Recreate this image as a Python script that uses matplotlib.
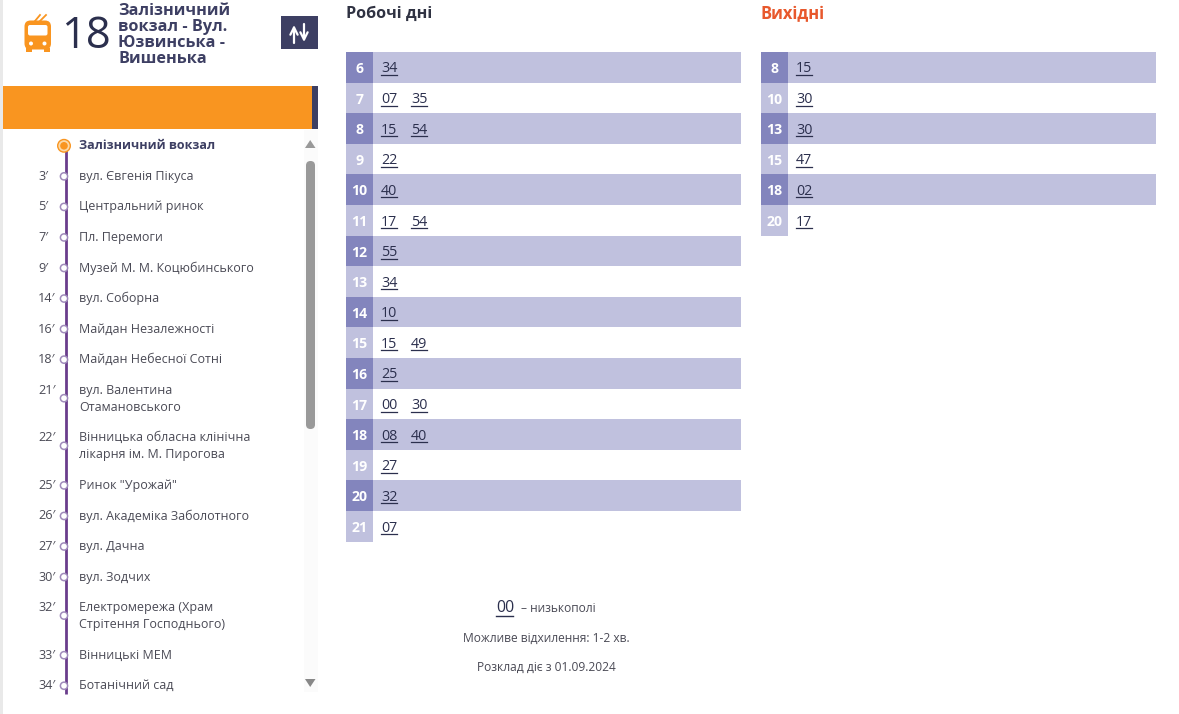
import matplotlib
matplotlib.use("Agg")
import matplotlib.pyplot as plt
from matplotlib.patches import Rectangle, FancyBboxPatch, Circle, Polygon

plt.rcParams['font.family'] = ['Open Sans', 'DejaVu Sans']

route_number = "18"
route_name = ["Залізничний", "вокзал - Вул.", "Юзвинська -", "Вишенька"]

stop_times = ["", "3′", "5′", "7′", "9′", "14′", "16′", "18′", "21′", "22′", "25′", "26′", "27′", "30′", "32′", "33′", "34′"]
stop_names = [
    "Залізничний вокзал", "вул. Євгенія Пікуса", "Центральний ринок", "Пл. Перемоги",
    "Музей М. М. Коцюбинського", "вул. Соборна", "Майдан Незалежності", "Майдан Небесної Сотні",
    "вул. Валентина\nОтамановського", "Вінницька обласна клінічна\nлікарня ім. М. Пирогова",
    "Ринок \"Урожай\"", "вул. Академіка Заболотного", "вул. Дачна", "вул. Зодчих",
    "Електромережа (Храм\nСтрітення Господнього)", "Вінницькі МЕМ", "Ботанічний сад",
]

weekday_hours = [6, 7, 8, 9, 10, 11, 12, 13, 14, 15, 16, 17, 18, 19, 20, 21]
weekday_minutes = [["34"], ["07", "35"], ["15", "54"], ["22"], ["40"], ["17", "54"], ["55"], ["34"],
                   ["10"], ["15", "49"], ["25"], ["00", "30"], ["08", "40"], ["27"], ["32"], ["07"]]
weekend_hours = [8, 10, 13, 15, 18, 20]
weekend_minutes = [["15"], ["30"], ["30"], ["47"], ["02"], ["17"]]

DARK = "#3d3f63"
NAVY = "#2b2f4d"
ORANGE = "#f99520"
PURPLE = "#6a3d8c"
ROW = "#c0c1de"
HOUR = "#8385bd"
TEXT = "#4a4a55"

fig = plt.figure(figsize=(11.79, 7.14), dpi=100)
ax = fig.add_axes([0, 0, 1, 1])
ax.set_xlim(0, 1179)
ax.set_ylim(714, 0)
ax.axis("off")


def px(size):
    return size * 72 / 100


def rect(x, y, w, h, color, z=1):
    ax.add_patch(Rectangle((x, y), w, h, facecolor=color, edgecolor="none", zorder=z))


def draw_table(x, hours, minutes):
    for i, (hour, mins) in enumerate(zip(hours, minutes)):
        top = 52 + i * 30.6
        mid = top + 17
        if i % 2 == 0:
            rect(x, top, 395, 30.6, ROW)
            rect(x, top, 27, 30.6, HOUR, 2)
        else:
            rect(x, top, 27, 30.6, ROW, 2)
        ax.text(x + 13.5, mid, str(hour), color="white", fontsize=px(14), fontweight="bold",
                ha="center", va="center", zorder=3)
        for j, m in enumerate(mins):
            mx = x + 35 + j * 30
            ax.text(mx, mid, m, color=NAVY, fontsize=px(14.3), fontweight="medium", ha="left", va="center", zorder=3)
            ax.plot([mx, mx + 16], [mid + 6, mid + 6], color=NAVY, lw=0.9, zorder=3)


# left panel
rect(0, 0, 3, 714, "#e9e9e9")
rect(3, 86, 309, 43, ORANGE)
rect(312, 86, 6, 43, DARK)
rect(304, 130, 14, 562, "#fbfbfb", 0)

# trolleybus icon
ax.plot([35, 40], [21, 15], color=ORANGE, lw=1.3)
ax.plot([40, 46], [21, 15], color=ORANGE, lw=1.3)
ax.add_patch(FancyBboxPatch((24.5, 20.5), 26.5, 29, boxstyle="round,pad=0,rounding_size=6",
                            facecolor=ORANGE, edgecolor="none"))
ax.add_patch(FancyBboxPatch((28, 25), 19.5, 10.5, boxstyle="round,pad=0,rounding_size=2",
                            facecolor="white", edgecolor="none", zorder=2))
ax.add_patch(Circle((31, 43.5), 2, facecolor="white", edgecolor="none", zorder=2))
ax.add_patch(Circle((44.5, 43.5), 2, facecolor="white", edgecolor="none", zorder=2))
rect(26, 48, 6, 4, ORANGE)
rect(43.5, 48, 6, 4, ORANGE)

ax.text(61, 37, route_number, color=NAVY, fontsize=px(43.5), ha="left", va="center")
for i, line in enumerate(route_name):
    ax.text(118, 11 + i * 16, line, color=DARK, fontsize=px(16.2), fontweight="bold",
            ha="left", va="center", linespacing=1)

# swap button
rect(281, 16, 37, 33, DARK)
for ax_x, y0, y1 in [(294, 43, 25), (304, 24, 42)]:
    ax.annotate("", xy=(ax_x, y1), xytext=(ax_x, y0),
                arrowprops=dict(arrowstyle="->", color="white", lw=1.6, mutation_scale=13, shrinkA=0, shrinkB=0))

# stops
y = 145.8
ys = []
for name in stop_names:
    ys.append(y)
    y += 47.6 if "\n" in name else 30.55
ax.plot([66, 66], [ys[0], 694], color=PURPLE, lw=2, zorder=2, solid_capstyle="butt")
for i, (t, name, sy) in enumerate(zip(stop_times, stop_names, ys)):
    two_line = "\n" in name
    dot_y = sy + 8 if two_line else sy
    if i == 0:
        ax.add_patch(Circle((64, sy), 6.3, facecolor="#fbd9a9", edgecolor=ORANGE, lw=1, zorder=3))
        ax.add_patch(Circle((64, sy), 3.8, facecolor=ORANGE, edgecolor="none", zorder=4))
        ax.text(79, sy, name, color=DARK, fontsize=px(12.5), fontweight="bold", ha="left", va="center")
    else:
        ax.add_patch(Circle((64, dot_y), 3.6, facecolor="white", edgecolor="#a08bbb", lw=1.1, zorder=3))
        ax.text(38, sy, t, color=TEXT, fontsize=px(12.6), ha="left", va="center")
        for k, part in enumerate(name.split("\n")):
            ax.text(79, sy + k * 17, part, color=TEXT, fontsize=px(12.5), ha="left", va="center")

# scrollbar
ax.add_patch(FancyBboxPatch((306, 161), 9, 268, boxstyle="round,pad=0,rounding_size=4.5",
                            facecolor="#999999", edgecolor="none"))
ax.add_patch(Polygon([(305, 148), (315.5, 148), (310.2, 140)], facecolor="#999999", edgecolor="none"))
ax.add_patch(Polygon([(305, 679), (315.5, 679), (310.2, 687)], facecolor="#888888", edgecolor="none"))

# timetables
ax.text(346, 14, "Робочі дні", color="#2f3242", fontsize=px(16.1), fontweight="bold", ha="left", va="center")
ax.text(761, 14, "Вихідні", color="#e8582c", fontsize=px(16.5), fontweight="bold", ha="left", va="center")
draw_table(346, weekday_hours, weekday_minutes)
draw_table(761, weekend_hours, weekend_minutes)

# notes
ax.text(496, 608.5, "00", color=NAVY, fontsize=px(16), fontweight="medium", ha="left", va="center")
ax.plot([496, 513], [616, 616], color=NAVY, lw=1)
ax.text(521, 609, "– низькополі", color=TEXT, fontsize=px(12), ha="left", va="center")
ax.text(546, 638, "Можливе відхилення: 1-2 хв.", color=TEXT, fontsize=px(12), ha="center", va="center")
ax.text(546, 667, "Розклад діє з 01.09.2024", color=TEXT, fontsize=px(12), ha="center", va="center")

fig.savefig("out.png", dpi=100)
